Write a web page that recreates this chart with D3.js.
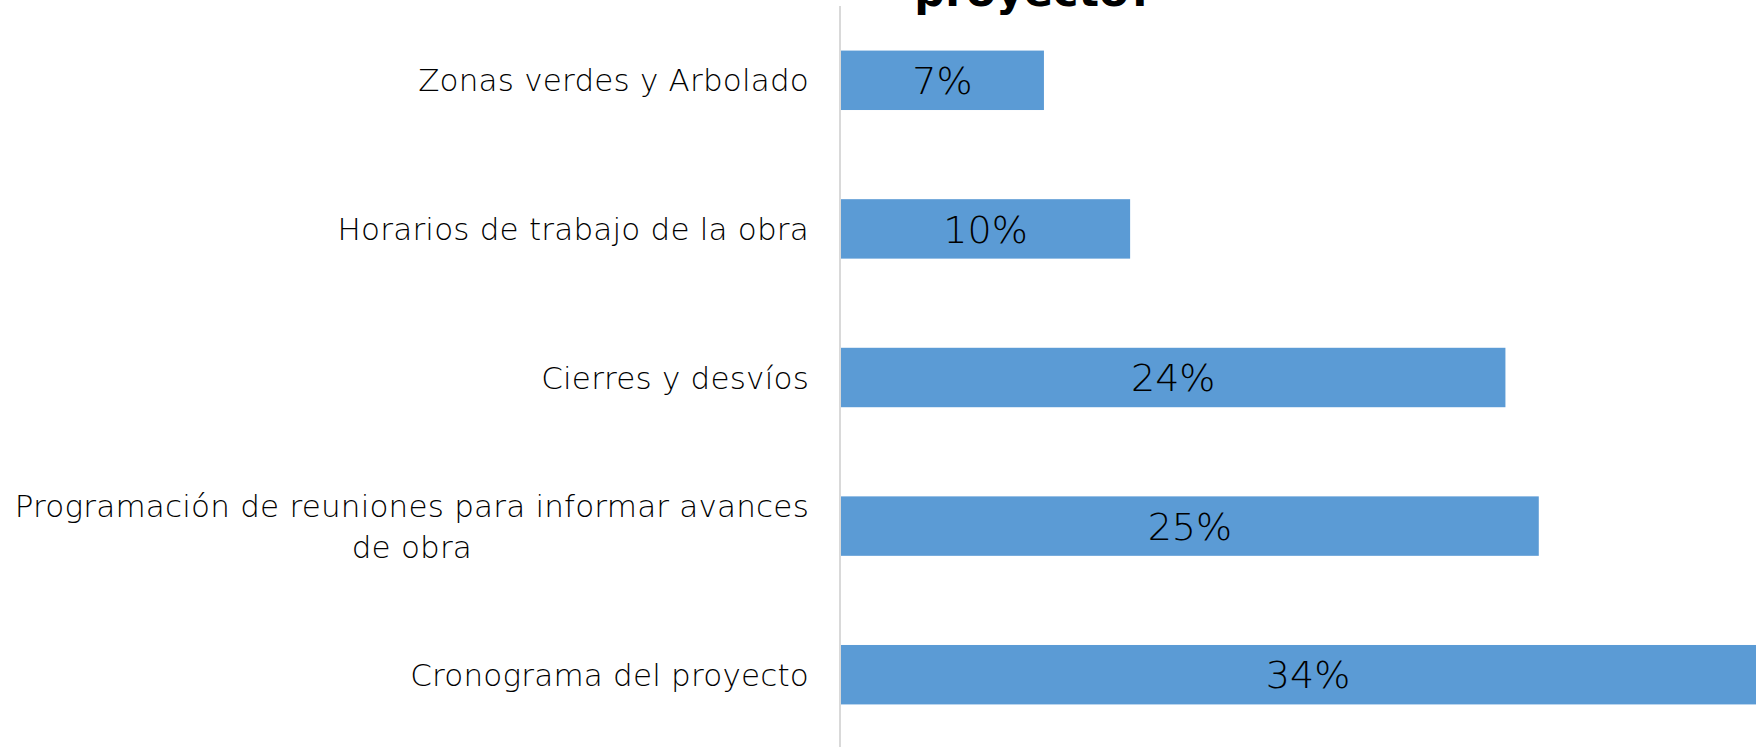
<!DOCTYPE html>
<meta charset="utf-8">
<style>
  body { margin: 0; background: #fff; }
  svg { display: block; }
  .cat text { font-family: "DejaVu Sans", sans-serif; font-weight: 200; fill: #000; letter-spacing: 0.2px; }
  .val { font-family: "DejaVu Sans", sans-serif; font-weight: 200; fill: #000; }
  .title { font-family: "DejaVu Sans", sans-serif; font-weight: bold; fill: #000; }
</style>
<body>
<div class="chart"></div>
<script src="https://cdnjs.cloudflare.com/ajax/libs/d3/7.8.5/d3.min.js"></script>
<script>

  // data (top to bottom)
  const categories = [
    "Zonas verdes y Arbolado",
    "Horarios de trabajo de la obra",
    "Cierres y desvíos",
    "Programación de reuniones para informar avances de obra",
    "Cronograma del proyecto"
  ];
  const values = [7.3, 10.4, 23.9, 25.1, 33.6];
  const valueLabels = ["7%", "10%", "24%", "25%", "34%"];

  // line breaks as in the original labels
  const labelLines = {
    "Programación de reuniones para informar avances de obra":
      ["Programación de reuniones para informar avances", "de obra"]
  };

  const width = 1756;
  const height = 747;
  const x0 = 841;

  const svg = d3.select(".chart").append("svg")
    .attr("width", width)
    .attr("height", height);

  const data = categories.map((c, i) => ({cat: c, value: values[i], label: valueLabels[i]}));

  let x = d3.scaleLinear()
    .domain([0, 40])
    .range([x0, x0 + 40 * 27.8]);

  let y = d3.scaleBand()
    .domain(categories)
    .range([6, 749])
    .paddingInner(0.6)
    .paddingOuter(0.3);

  // title (only its last line is on screen, as in the original)
  svg.append("text")
    .attr("class", "title")
    .attr("x", 1034)
    .attr("y", 6)
    .attr("text-anchor", "middle")
    .attr("font-size", "43px")
    .text("proyecto?");

  // bars
  svg.selectAll(".bar")
    .data(data)
    .enter().append("rect")
    .attr("class", "bar")
    .attr("x", x(0))
    .attr("y", (d) => y(d.cat))
    .attr("width", (d) => x(d.value) - x(0))
    .attr("height", y.bandwidth())
    .attr("fill", "#5b9bd5");

  // value labels
  svg.selectAll(".val")
    .data(data)
    .enter().append("text")
    .attr("class", "val")
    .attr("x", (d) => (x(0) + x(d.value)) / 2)
    .attr("y", (d) => y(d.cat) + y.bandwidth() / 2)
    .attr("dy", "0.36em")
    .attr("text-anchor", "middle")
    .attr("font-size", "38px")
    .text((d) => d.label);

  // vertical axis line
  svg.append("line")
    .attr("x1", x0 - 1)
    .attr("x2", x0 - 1)
    .attr("y1", 6)
    .attr("y2", height)
    .attr("stroke", "#d9d9d9")
    .attr("stroke-width", 2);

  // category labels
  const cat = svg.selectAll(".cat")
    .data(categories)
    .enter().append("g")
    .attr("class", "cat");

  const lineH = 41;
  cat.each(function (c) {
    const lines = labelLines[c] || [c];
    const cy = y(c) + y.bandwidth() / 2;
    const g = d3.select(this);
    if (lines.length === 1) {
      g.append("text")
        .attr("x", 809)
        .attr("y", cy)
        .attr("dy", "0.36em")
        .attr("text-anchor", "end")
        .attr("font-size", "31px")
        .text(lines[0]);
    } else {
      const t = g.append("text")
        .attr("font-size", "31px")
        .attr("text-anchor", "middle");
      lines.forEach((l, k) => {
        t.append("tspan")
          .attr("y", cy + (k - (lines.length - 1) / 2) * lineH)
          .attr("dy", "0.36em")
          .text(l);
      });
      // center the block so its right edge sits at 809
      const w = t.select("tspan").node().getComputedTextLength();
      t.selectAll("tspan").attr("x", 809 - w / 2);
    }
  });

</script>
